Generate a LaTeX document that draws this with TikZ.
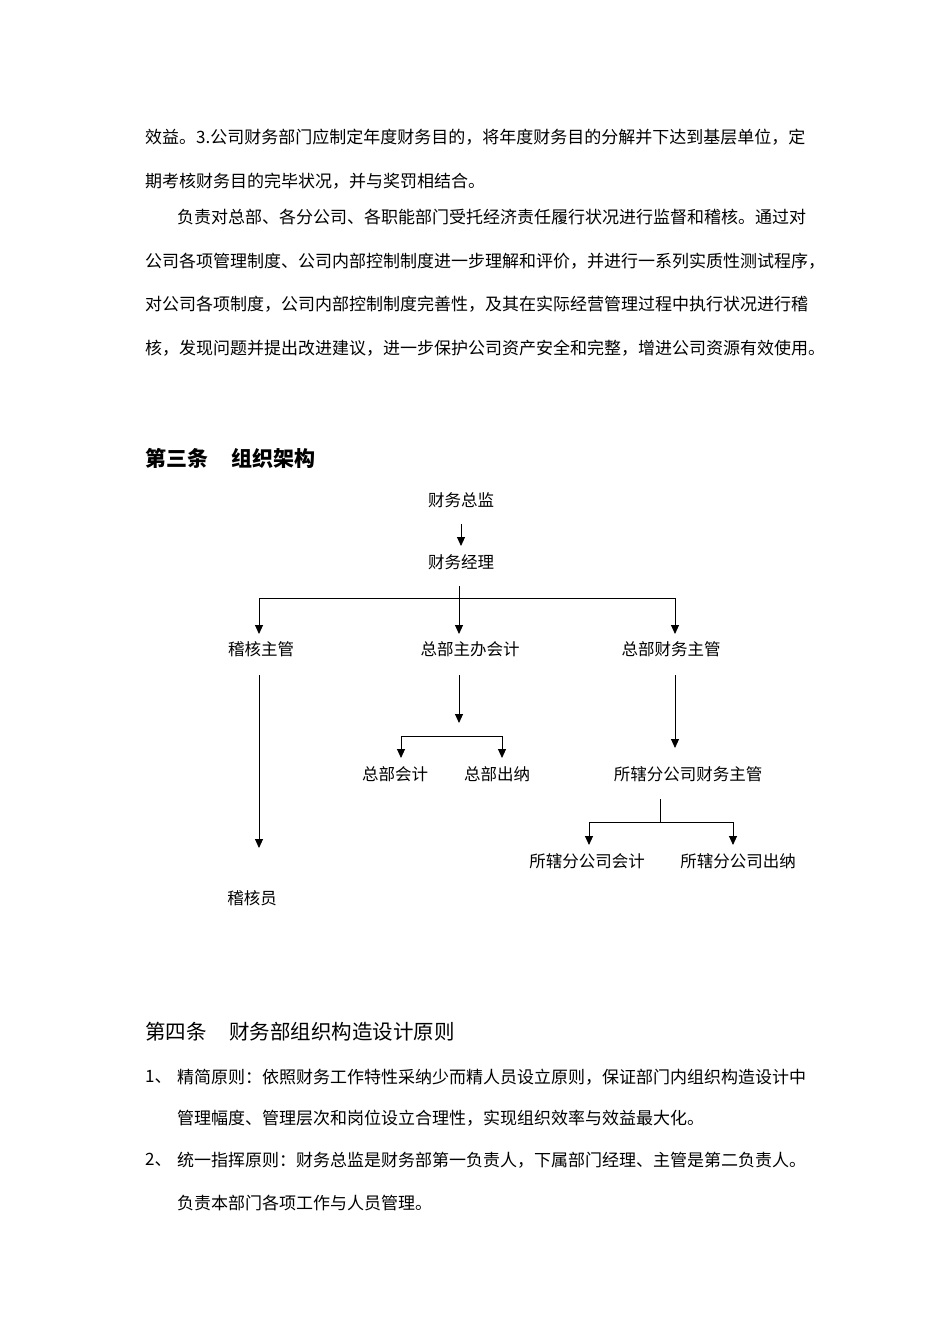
\documentclass[tikz,border=0pt]{standalone}
\usepackage{fontspec}
\setmainfont{Noto Sans CJK SC}
\usetikzlibrary{arrows.meta}
\begin{document}
\begin{tikzpicture}[x=1pt,y=-1pt,
  txt/.style={inner sep=0pt,anchor=west,font=\fontsize{17}{20}\selectfont},
  lbl/.style={inner sep=0pt,font=\fontsize{16.5}{19}\selectfont},
  arr/.style={-{Triangle[length=9pt,width=8pt]},line width=0.9pt},
  ln/.style={line width=0.9pt}]
\useasboundingbox[fill=white] (0,0) rectangle (950,1344);
\node[txt] (p1) at (145,137) {效益。3.公司财务部门应制定年度财务目的，将年度财务目的分解并下达到基层单位，定};
\node[txt] (p2) at (145,181) {期考核财务目的完毕状况，并与奖罚相结合。};
\node[txt] (p3) at (177,217) {负责对总部、各分公司、各职能部门受托经济责任履行状况进行监督和稽核。通过对};
\node[txt] (p4) at (145,261) {公司各项管理制度、公司内部控制制度进一步理解和评价，并进行一系列实质性测试程序，};
\node[txt] (p5) at (145,304) {对公司各项制度，公司内部控制制度完善性，及其在实际经营管理过程中执行状况进行稽};
\node[txt] (p6) at (145,348) {核，发现问题并提出改进建议，进一步保护公司资产安全和完整，增进公司资源有效使用。};
\node[txt,font=\fontsize{21}{25}\selectfont\bfseries] (h3) at (145,458) {第三条\hspace{1.1em}组织架构};
\node[lbl] (a) at (461,500) {财务总监};
\node[lbl] (b) at (461,562) {财务经理};
\node[lbl] (c1) at (261,649) {稽核主管};
\node[lbl] (c2) at (470,649) {总部主办会计};
\node[lbl] (c3) at (671,649) {总部财务主管};
\node[lbl] (d1) at (252,898) {稽核员};
\node[lbl] (e1) at (395,774) {总部会计};
\node[lbl] (e2) at (497,774) {总部出纳};
\node[lbl] (f) at (688,774) {所辖分公司财务主管};
\node[lbl] (g1) at (587,861) {所辖分公司会计};
\node[lbl] (g2) at (738,861) {所辖分公司出纳};
\coordinate (ja) at (461,524); \coordinate (jb) at (461,546);
\draw[arr] (ja) -- (jb);
\coordinate (t0) at (459,586); \coordinate (t1) at (259,598); \coordinate (t3) at (675,598);
\draw[ln] (t1) -- (t3);
\draw[arr] (t1) -- (259,634);
\draw[arr] (t3) -- (675,634);
\draw[arr] (t0) -- (459,634);
\draw[arr] (259,675) -- (259,848);
\draw[arr] (459,675) -- (459,723);
\coordinate (k1) at (401,736); \coordinate (k2) at (502,736);
\draw[ln] (k1) -- (k2);
\draw[arr] (k1) -- (401,758);
\draw[arr] (k2) -- (502,758);
\draw[arr] (675,675) -- (675,748);
\coordinate (m0) at (660,799); \coordinate (m1) at (589,822); \coordinate (m2) at (733,822);
\draw[ln] (m0) -- (660,822);
\draw[ln] (m1) -- (m2);
\draw[arr] (m1) -- (589,845);
\draw[arr] (m2) -- (733,845);
\node[txt,font=\fontsize{20.5}{24}\selectfont] (h4) at (145,1032) {第四条\hspace{1.1em}财务部组织构造设计原则};
\node[txt] (n1) at (145,1077) {1、};
\node[txt] (l1) at (177,1077) {精简原则：依照财务工作特性采纳少而精人员设立原则，保证部门内组织构造设计中};
\node[txt] (l2) at (177,1118) {管理幅度、管理层次和岗位设立合理性，实现组织效率与效益最大化。};
\node[txt] (n2) at (145,1160) {2、};
\node[txt] (l3) at (177,1160) {统一指挥原则：财务总监是财务部第一负责人，下属部门经理、主管是第二负责人。};
\node[txt] (l4) at (177,1203) {负责本部门各项工作与人员管理。};
\end{tikzpicture}
\end{document}
